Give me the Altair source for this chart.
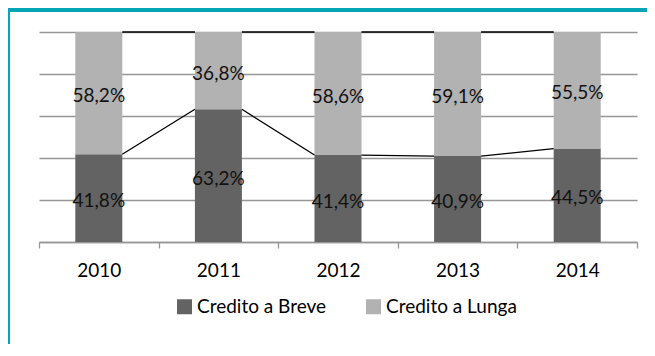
import altair as alt
import pandas as pd

years = ["2010", "2011", "2012", "2013", "2014"]
breve = [41.8, 63.2, 41.4, 40.9, 44.5]
lunga = [58.2, 36.8, 58.6, 59.1, 55.5]
series_names = ["Credito a Breve", "Credito a Lunga"]
colors = ["#636363", "#b2b2b2"]

GRAY = "#969696"
TEAL = "#06a5b6"
FONT = "Lato"


def fmt(v):
    return f"{v:.1f}".replace(".", ",") + "%"


rows = []
for yr, b, l in zip(years, breve, lunga):
    rows.append(dict(year=yr, serie=series_names[0], y0=0.0, y1=b / 100, label=fmt(b)))
    rows.append(dict(year=yr, serie=series_names[1], y0=b / 100, y1=(b + l) / 100, label=fmt(l)))
df = pd.DataFrame(rows)
df["mid"] = (df["y0"] + df["y1"]) / 2

pairs = []
for i in range(len(years) - 1):
    pairs.append(dict(
        year=years[i], nxt=years[i + 1],
        yb=breve[i] / 100, yb2=breve[i + 1] / 100,
        yt=(breve[i] + lunga[i]) / 100, yt2=(breve[i + 1] + lunga[i + 1]) / 100,
    ))
pairs_df = pd.DataFrame(pairs)

x_scale = alt.Scale(domain=years, paddingInner=0, paddingOuter=0)
x_enc = alt.X(
    "year:N", scale=x_scale,
    axis=alt.Axis(title=None, labelAngle=0, tickBand="extent", tickSize=6,
                  tickColor=GRAY, domainColor=GRAY, tickWidth=1.3, domainWidth=1.3,
                  labelFont=FONT, labelFontSize=19, labelColor="#000",
                  labelPadding=13, grid=False),
)
y_scale = alt.Scale(domain=[0, 1], nice=False)

bars = alt.Chart(df).mark_bar(width=47).encode(
    x=x_enc,
    y=alt.Y("y1:Q", scale=y_scale,
            axis=alt.Axis(title=None, values=[0, 0.2, 0.4, 0.6, 0.8, 1.0],
                          labels=False, ticks=False, domain=False, grid=True,
                          gridColor=GRAY, gridWidth=1.5)),
    y2="y0:Q",
    color=alt.Color("serie:N", scale=alt.Scale(domain=series_names, range=colors),
                    legend=alt.Legend(title=None, orient="none", legendX=136, legendY=265,
                                      direction="horizontal", symbolType="square",
                                      symbolSize=225, symbolStrokeWidth=0,
                                      labelFont=FONT, labelFontSize=19, labelColor="#000",
                                      labelOffset=3, columnPadding=37)),
)

texts = alt.Chart(df).mark_text(font=FONT, fontSize=19, color="#111", dy=3).encode(
    x=alt.X("year:N", scale=x_scale),
    y=alt.Y("mid:Q", scale=y_scale),
    text="label:N",
)

rule_low = alt.Chart(pairs_df).mark_rule(color="black", strokeWidth=1.3, xOffset=23.5, x2Offset=-23.5).encode(
    x=alt.X("year:N", scale=x_scale), x2="nxt", y=alt.Y("yb:Q", scale=y_scale), y2="yb2",
)
rule_top = alt.Chart(pairs_df).mark_rule(color="black", strokeWidth=1.3, xOffset=23.5, x2Offset=-23.5).encode(
    x=alt.X("year:N", scale=x_scale), x2="nxt", y=alt.Y("yt:Q", scale=y_scale), y2="yt2",
)

deco = pd.DataFrame({"k": [0]})
band_top = alt.Chart(deco).mark_rect(color=TEAL).encode(
    x=alt.value(-31), x2=alt.value(608), y=alt.value(-24), y2=alt.value(-20))
band_left = alt.Chart(deco).mark_rect(color=TEAL).encode(
    x=alt.value(-31), x2=alt.value(-29), y=alt.value(-24), y2=alt.value(312))

chart = alt.layer(bars, rule_low, rule_top, texts, band_top, band_left).properties(
    width=598, height=210,
    autosize=alt.AutoSizeParams(type="none"),
    padding={"left": 31, "top": 24, "right": 10, "bottom": 102},
    background="white",
).configure_view(stroke=None)

chart.save("out.html", embed_options={"renderer": "svg", "actions": False})
